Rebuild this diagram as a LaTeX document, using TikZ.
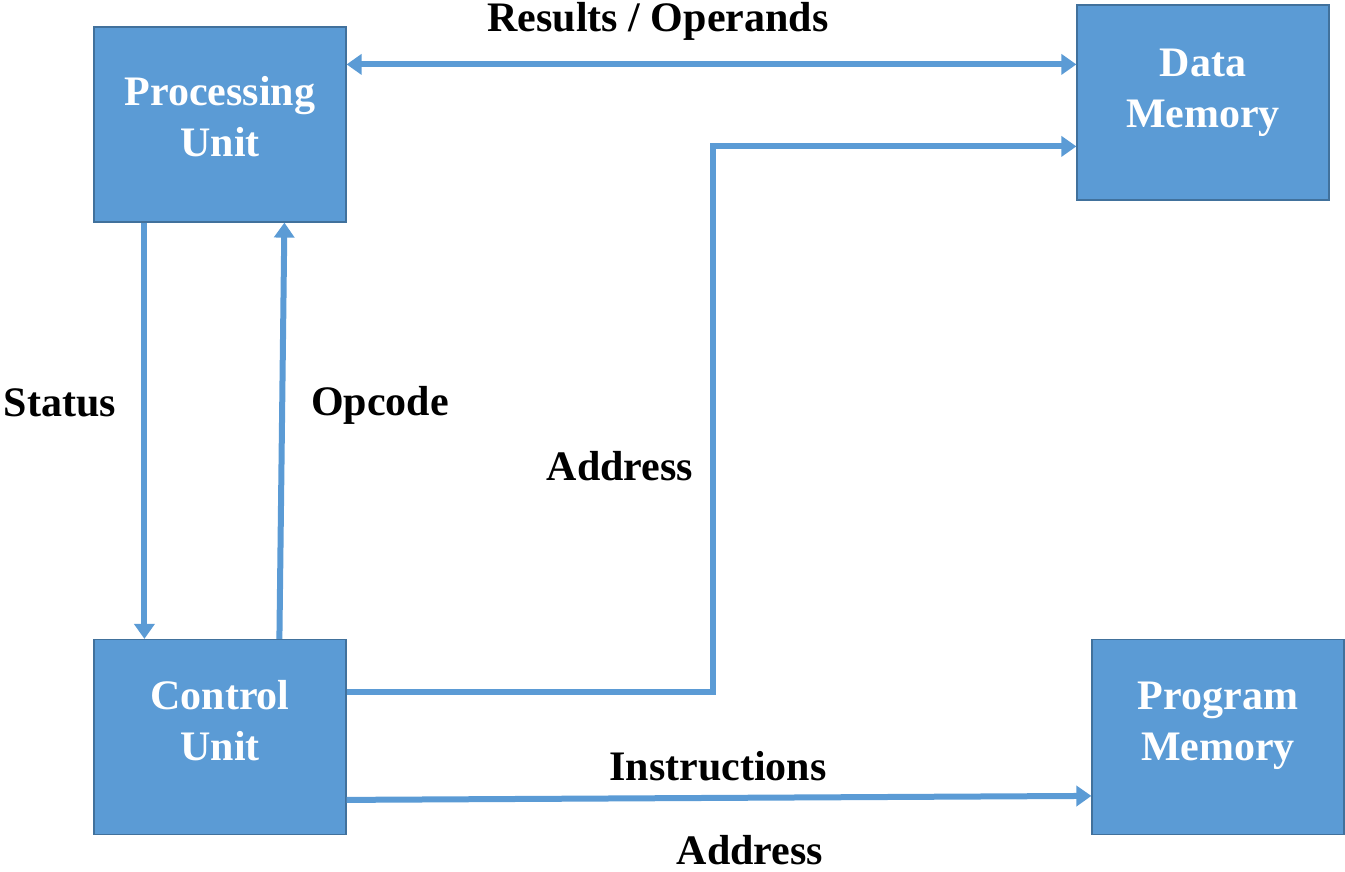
\documentclass[tikz,border=0pt]{standalone}
\usepackage{fontspec}
\setmainfont{Liberation Serif}
\usetikzlibrary{arrows.meta}
\definecolor{boxblue}{HTML}{5B9BD5}
\definecolor{boxedge}{HTML}{41719C}
\tikzset{
  unit/.style={rectangle, draw=boxedge, line width=0.6pt, fill=boxblue,
    minimum width=126pt, minimum height=97.5pt, inner sep=0pt},
  unittext/.style={align=center, text=white, font=\bfseries\fontsize{21}{25.5}\selectfont},
  tag/.style={font=\bfseries\fontsize{21}{25.5}\selectfont, inner sep=0pt},
  link/.style={draw=boxblue, line width=3pt,
    -{Triangle[length=7.5pt,width=10pt]}},
  biglink/.style={draw=boxblue, line width=3pt,
    {Triangle[length=7.5pt,width=10pt]}-{Triangle[length=7.5pt,width=10pt]}}
}
\begin{document}
\begin{tikzpicture}[x=0.5pt,y=-0.5pt]
\useasboundingbox (0,0) rectangle (1345,872);

% functional blocks
\node[unit, label={[unittext, yshift=4pt]center:Processing\\Unit}] (pu) at (220,124.5) {};
\node[unit, label={[unittext, yshift=5pt]center:Data\\Memory}] (dm) at (1203,102.5) {};
\node[unit, label={[unittext, yshift=8pt]center:Control\\Unit}] (cu) at (220,737) {};
\node[unit, label={[unittext, yshift=5.5pt]center:Program\\Memory}] (pm) at (1218,737) {};

% data path between processor and data memory
\draw[biglink] ([yshift=-19pt]pu.north east) -- ([yshift=-30pt]dm.north west);

% status and opcode between processor and control
\draw[link] ([xshift=25.5pt]pu.south west) -- ([xshift=25.5pt]cu.north west);
\draw[link] ([xshift=93pt]cu.north west) -- ([xshift=95.5pt]pu.south west);

% data memory address
\draw[link] ([yshift=-26.5pt]cu.north east) -| ([xshift=-181.5pt,yshift=-71pt]dm.north west)
  -- ([yshift=-71pt]dm.north west);

% program memory address / instructions
\draw[link] ([yshift=-80.5pt]cu.north east) -- ([yshift=-78.5pt]pm.north west);

% signal labels
\node[tag] (lres) at (658,21) {Results / Operands};
\node[tag] (lsta) at (60,403) {Status};
\node[tag] (lopc) at (380,405) {Opcode};
\node[tag] (ladd) at (620,466) {Address};
\node[tag] (lins) at (718,766) {Instructions};
\node[tag] (lpad) at (750,850) {Address};
\end{tikzpicture}
\end{document}
